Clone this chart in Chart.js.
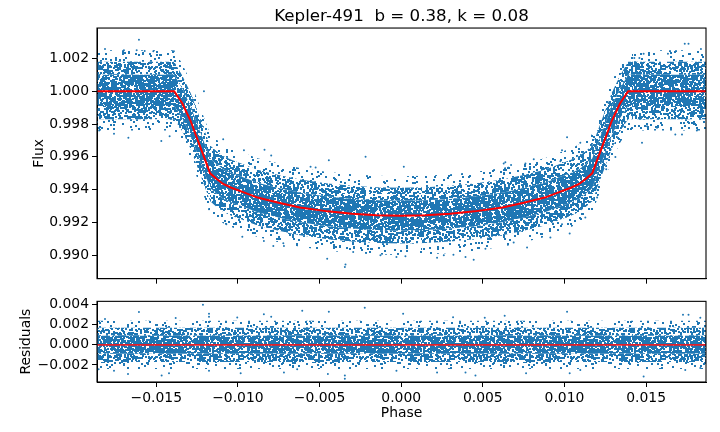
<!DOCTYPE html>
<html lang="en">
<head>
    <meta charset="UTF-8">
    <title>Kepler-491 transit</title>
    <script src="https://cdn.jsdelivr.net/npm/chart.js"></script>
    <style>
        body { margin: 0; background: #fff; width: 720px; height: 432px; position: relative; overflow: hidden; }
        canvas { position: absolute; left: 0; }
        #fluxChart { top: 0; }
        #resChart { top: 290px; }
    </style>
</head>
<body>
    <canvas id="fluxChart" width="720" height="290"></canvas>
    <canvas id="resChart" width="720" height="142"></canvas>

    <script>
        // tick labels
        const phaseTicks = [-0.015, -0.010, -0.005, 0.000, 0.005, 0.010, 0.015];
        const fluxTicks = [0.990, 0.992, 0.994, 0.996, 0.998, 1.000, 1.002];
        const resTicks = [-0.002, 0.000, 0.002, 0.004];

        // transit model (red curve)
        const modelPhase = [-0.0187, -0.0139, -0.0134, -0.0129, -0.0123, -0.0117, -0.0113, -0.0109, -0.0104, -0.0098, -0.0088, -0.0075, -0.0062, -0.0045, -0.0030, -0.0015, 0.0000,
                            0.0015, 0.0030, 0.0045, 0.0062, 0.0075, 0.0088, 0.0098, 0.0104, 0.0109, 0.0113, 0.0117, 0.0123, 0.0129, 0.0134, 0.0139, 0.0187];
        const modelFlux = [1.0000, 1.0000, 0.99925, 0.9982, 0.9966, 0.9950, 0.99465, 0.99435, 0.99412, 0.9939, 0.99352, 0.9932, 0.99292, 0.99268, 0.99254, 0.99245, 0.99242,
                           0.99245, 0.99254, 0.99268, 0.99292, 0.9932, 0.99352, 0.9939, 0.99412, 0.99435, 0.99465, 0.9950, 0.9966, 0.9982, 0.99925, 1.0000, 1.0000];

        // edges of the point cloud (dense core, middle, sparse halo), read at the model phases
        const coreHi = [1.0010, 1.0010, 1.00015, 0.9991, 0.9975, 0.9959, 0.99555, 0.99525, 0.99502, 0.9948, 0.99442, 0.9941, 0.99382, 0.99358, 0.99344, 0.99335, 0.99332,
                        0.99335, 0.99344, 0.99358, 0.99382, 0.9941, 0.99442, 0.9948, 0.99502, 0.99525, 0.99555, 0.9959, 0.9975, 0.9991, 1.00015, 1.0010, 1.0010];
        const coreLo = [0.9991, 0.9991, 0.99835, 0.9973, 0.9957, 0.9941, 0.99375, 0.99345, 0.99322, 0.9930, 0.99262, 0.9923, 0.99202, 0.99178, 0.99164, 0.99155, 0.99152,
                        0.99155, 0.99164, 0.99178, 0.99202, 0.9923, 0.99262, 0.9930, 0.99322, 0.99345, 0.99375, 0.9941, 0.9957, 0.9973, 0.99835, 0.9991, 0.9991];
        const midHi = [1.0018, 1.0018, 1.00095, 0.9999, 0.9983, 0.9967, 0.99635, 0.99605, 0.99582, 0.9956, 0.99522, 0.9949, 0.99462, 0.99438, 0.99424, 0.99415, 0.99412,
                       0.99415, 0.99424, 0.99438, 0.99462, 0.9949, 0.99522, 0.9956, 0.99582, 0.99605, 0.99635, 0.9967, 0.9983, 0.9999, 1.00095, 1.0018, 1.0018];
        const midLo = [0.9983, 0.9983, 0.99755, 0.9965, 0.9949, 0.9933, 0.99295, 0.99265, 0.99242, 0.9922, 0.99182, 0.9915, 0.99122, 0.99098, 0.99084, 0.99075, 0.99072,
                       0.99075, 0.99084, 0.99098, 0.99122, 0.9915, 0.99182, 0.9922, 0.99242, 0.99265, 0.99295, 0.9933, 0.9949, 0.9965, 0.99755, 0.9983, 0.9983];
        const haloHi = [1.0025, 1.0025, 1.00165, 1.0006, 0.9990, 0.9974, 0.99705, 0.99675, 0.99652, 0.9963, 0.99592, 0.9956, 0.99532, 0.99508, 0.99494, 0.99485, 0.99482,
                        0.99485, 0.99494, 0.99508, 0.99532, 0.9956, 0.99592, 0.9963, 0.99652, 0.99675, 0.99705, 0.9974, 0.9990, 1.0006, 1.00165, 1.0025, 1.0025];
        const haloLo = [0.9976, 0.9976, 0.99685, 0.9958, 0.9942, 0.9926, 0.99225, 0.99195, 0.99172, 0.9915, 0.99112, 0.9908, 0.99052, 0.99028, 0.99014, 0.99005, 0.99002,
                        0.99005, 0.99014, 0.99028, 0.99052, 0.9908, 0.99112, 0.9915, 0.99172, 0.99195, 0.99225, 0.9926, 0.9942, 0.9958, 0.99685, 0.9976, 0.9976];

        // stray points outside the cloud
        const fluxOutPhase = [-0.01606, -0.01814, -0.01698, -0.0162, -0.01571, -0.01518, -0.01392, -0.0185, -0.01759, -0.01671, -0.01469, -0.01418, -0.01208, -0.0109,
                              -0.00963, -0.00837, -0.00796, -0.00973, -0.00841, -0.00783, -0.00722, -0.01071, -0.01177, -0.00345, -0.00341, -0.00453, -0.00718, -0.00443,
                              -0.00218, 0.00016, -0.00555, -0.00524, 0.00628, 0.00673, -0.00127, -0.00029, 0.00026, 0.0022, 0.00444, 0.00394, -0.00294, 0.00261, 0.00516,
                              0.0032, 0.01475, 0.01312, 0.01016, 0.00985, 0.01097, 0.01679, 0.0172, 0.01811, 0.01567, 0.01506, 0.01737, 0.0176, 0.01836, 0.01485, 0.01634,
                              0.01459, 0.01428, 0.012, 0.01032, 0.00914, 0.00771, 0.00689, 0.00985, 0.01128, 0.01256, 0.00975, 0.00761, 0.00638, 0.00812];
        const fluxOutValue = [1.00314, 1.00258, 1.0025, 1.0025, 1.00245, 1.00244, 1.00243, 0.99761, 0.99741, 0.99717, 0.99696, 0.99726, 1.0000, 0.99707,
                              0.9964, 0.99644, 0.99609, 0.99113, 0.99088, 0.99057, 0.99074, 0.9919, 0.99281, 0.98929, 0.98945, 0.9898, 0.99057, 0.9958,
                              0.99601, 0.9954, 0.9954, 0.99535, 0.9956, 0.9955, 0.9900, 0.9899, 0.98995, 0.98985, 0.98973, 0.9899, 0.9902, 0.9900, 0.9904,
                              0.99004, 0.99686, 0.99599, 0.9972, 0.9964, 0.99686, 0.99737, 0.99737, 0.99761, 0.99777, 0.99787, 1.0029, 1.0029, 1.00258, 1.00228, 1.00228,
                              1.00203, 1.00203, 0.99352, 0.99133, 0.99109, 0.99048, 0.99078, 0.9919, 0.9923, 0.99524, 0.99574, 0.99559, 0.99568, 0.99585];

        // residuals panel
        const resBandPhase = [-0.0187, -0.0090, 0.0000, 0.0090, 0.0187];
        const resCoreHi = [0.0009, 0.0009, 0.0009, 0.0009, 0.0009];
        const resCoreLo = [-0.0009, -0.0009, -0.0009, -0.0009, -0.0009];
        const resMidHi = [0.0017, 0.0017, 0.0017, 0.0017, 0.0017];
        const resMidLo = [-0.0017, -0.0017, -0.0017, -0.0017, -0.0017];
        const resHaloHi = [0.0024, 0.0024, 0.0024, 0.0024, 0.0024];
        const resHaloLo = [-0.0024, -0.0024, -0.0024, -0.0024, -0.0024];
        const resOutPhase = [-0.01214, -0.01606, -0.01177, -0.01177, -0.00606, -0.00443, -0.01814, -0.01381, -0.01004, -0.00841, -0.00796, -0.00223, 0.00012, 0.00318,
                             0.00512, 0.00634, 0.01016, 0.01726, 0.0176, 0.01832, -0.01467, -0.01422, -0.01673, -0.01759, -0.01853, -0.01177, -0.00983, -0.00345,
                             -0.00345, -0.00449, -0.00637, -0.00718, -0.00029, 0.0022, 0.00394, 0.00455, 0.00765, 0.01032, 0.01097, 0.01485, 0.0174, 0.01832];
        const resOutValue = [0.0040, 0.00327, 0.0031, 0.0028, 0.0034, 0.0033, 0.00257, 0.00266, 0.00273, 0.00305, 0.0028, 0.0037, 0.0031, 0.00275,
                             0.0027, 0.0029, 0.0033, 0.0030, 0.0030, 0.0027, -0.00306, -0.00284, -0.0029, -0.00258, -0.00242, -0.00258, -0.00284, -0.00306,
                             -0.00338, -0.0029, -0.00242, -0.00275, -0.00258, -0.00275, -0.00275, -0.00306, -0.00284, -0.00284, -0.0025, -0.00316, -0.0025, -0.0023];

        const FONT = "'DejaVu Sans', sans-serif";
        const BLUE = "#1f77b4";

        const pairs = (xs, ys) => xs.map((x, i) => ({ x: x, y: ys[i] }));

        // speckled fill so the bands read like a dense cloud of small markers
        function speckle(count, seed) {
            const w = 211, h = 97;
            const c = document.createElement("canvas");
            c.width = w;
            c.height = h;
            const g = c.getContext("2d");
            g.fillStyle = BLUE;
            let s = seed;
            const next = () => { s = (s * 16807) % 2147483647; return s / 2147483647; };
            for (let i = 0; i < 5; i++) next();
            for (let i = 0; i < count; i++) {
                g.fillRect(Math.floor(next() * w), Math.floor(next() * h), 2, 2);
            }
            return g.createPattern(c, "repeat");
        }
        const corePat = speckle(8800, 1234567);
        const midPat = speckle(4700, 7654321);
        const haloPat = speckle(800, 2468013);

        // six edge lines, each region filled against the line above it
        function cloud(xs, haloTop, midTop, coreTop, coreBot, midBot, haloBot) {
            const edge = (ys, fill, bg) => ({ data: pairs(xs, ys), borderWidth: 0, pointRadius: 0, fill: fill, backgroundColor: bg, order: 3 });
            return [
                edge(haloTop, false, "transparent"),
                edge(midTop, "-1", haloPat),
                edge(coreTop, "-1", midPat),
                edge(coreBot, "-1", corePat),
                edge(midBot, "-1", midPat),
                edge(haloBot, "-1", haloPat)
            ];
        }

        const fmt = (v) => (v < 0 ? "\u2212" : "") + Math.abs(v).toFixed(3);

        // matplotlib-like frame on all four sides
        const framePlugin = {
            id: "frame",
            afterDraw(chart) {
                const a = chart.chartArea, ctx = chart.ctx;
                ctx.save();
                ctx.strokeStyle = "#000";
                ctx.lineWidth = 1.1;
                ctx.strokeRect(a.left, a.top, a.right - a.left, a.bottom - a.top);
                ctx.restore();
            }
        };

        function xAxis(showLabels, height) {
            return {
                type: "linear",
                min: -0.01863,
                max: 0.01867,
                afterBuildTicks: (s) => { s.ticks = phaseTicks.map(v => ({ value: v })); },
                afterFit: (s) => { s.height = height; },
                grid: { drawOnChartArea: false, drawTicks: true, tickLength: 5, color: "#000", tickWidth: 1 },
                border: { display: true, color: "#000", width: 1 },
                ticks: { display: showLabels, padding: 3, color: "#000", font: { family: FONT, size: 13.9 }, callback: fmt, maxRotation: 0 },
                title: { display: showLabels, text: "Phase", color: "#000", font: { family: FONT, size: 13.9 }, padding: { top: 0, bottom: 10 } }
            };
        }

        function yAxis(ticks, min, max, label, titlePad) {
            return {
                type: "linear",
                min: min,
                max: max,
                afterBuildTicks: (s) => { s.ticks = ticks.map(v => ({ value: v })); },
                afterFit: (s) => { s.width = 97; },
                grid: { drawOnChartArea: false, drawTicks: true, tickLength: 5, color: "#000", tickWidth: 1 },
                border: { display: true, color: "#000", width: 1 },
                ticks: { padding: 3, color: "#000", font: { family: FONT, size: 13.9 }, callback: fmt },
                title: { display: true, text: label, color: "#000", font: { family: FONT, size: 13.9 }, padding: { top: titlePad, bottom: 0 } }
            };
        }

        // Flux panel
        new Chart(document.getElementById("fluxChart"), {
            type: "line",
            data: {
                datasets: [
                    ...cloud(modelPhase, haloHi, midHi, coreHi, coreLo, midLo, haloLo),
                    { data: pairs(fluxOutPhase, fluxOutValue), showLine: false, pointRadius: 1, pointBorderWidth: 0, pointBackgroundColor: BLUE, order: 1 },
                    { data: pairs(modelPhase, modelFlux), borderColor: "#ff0000", borderWidth: 2, pointRadius: 0, fill: false, tension: 0, order: 0 }
                ]
            },
            options: {
                responsive: false,
                animation: false,
                layout: { padding: { left: 0, right: 14, top: 0, bottom: 0 } },
                plugins: {
                    legend: { display: false },
                    tooltip: { enabled: false },
                    title: {
                        display: true,
                        fullSize: false,
                        text: "Kepler-491  b = 0.38, k = 0.08",
                        color: "#000",
                        font: { family: FONT, size: 16.7, weight: "normal" },
                        padding: { top: 7, bottom: 1 }
                    }
                },
                scales: {
                    x: xAxis(false, 10),
                    y: yAxis(fluxTicks, 0.98858, 1.00385, "Flux", 31)
                }
            },
            plugins: [framePlugin]
        });

        // Residuals panel
        new Chart(document.getElementById("resChart"), {
            type: "line",
            data: {
                datasets: [
                    ...cloud(resBandPhase, resHaloHi, resMidHi, resCoreHi, resCoreLo, resMidLo, resHaloLo),
                    { data: pairs(resOutPhase, resOutValue), showLine: false, pointRadius: 1, pointBorderWidth: 0, pointBackgroundColor: BLUE, order: 1 },
                    { data: pairs([-0.0187, 0.0187], [0, 0]), borderColor: "#e0202a", borderWidth: 1.8, pointRadius: 0, fill: false, order: 0 }
                ]
            },
            options: {
                responsive: false,
                animation: false,
                layout: { padding: { left: 0, right: 14, top: 8, bottom: 0 } },
                plugins: { legend: { display: false }, tooltip: { enabled: false } },
                scales: {
                    x: xAxis(true, 50),
                    y: yAxis(resTicks, -0.0037, 0.00433, "Residuals", 18)
                }
            },
            plugins: [framePlugin]
        });
    </script>
</body>
</html>
